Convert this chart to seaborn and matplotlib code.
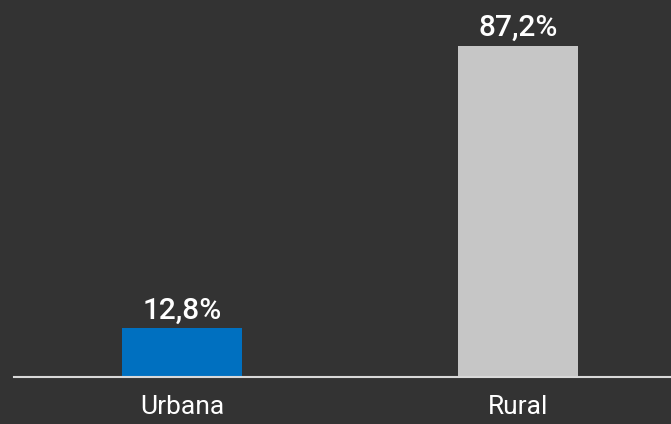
import matplotlib
matplotlib.use("Agg")
import matplotlib.pyplot as plt
import seaborn as sns
import pandas as pd

# data
categories = ["Urbana", "Rural"]
values = [12.8, 87.2]
labels = ["12,8%", "87,2%"]
colors = ["#0070C0", "#C6C6C6"]

bg = "#333333"

sns.set_theme(style="dark")
plt.rcParams["font.family"] = ["Roboto", "DejaVu Sans"]

df = pd.DataFrame({"zona": categories, "pct": values})

fig = plt.figure(figsize=(6.71, 4.24), dpi=100, facecolor=bg)
ax = fig.add_axes([14 / 671, 47 / 424, 657 / 671, 377 / 424])
ax.set_facecolor(bg)

sns.barplot(data=df, x="zona", y="pct", hue="zona", palette=colors,
            width=0.357, legend=False, saturation=1, linewidth=0, ax=ax)

# value labels on top of bars
for i, (v, lab) in enumerate(zip(values, labels)):
    ax.text(i, v + 1.0, lab, ha="center", va="bottom", color="white",
            fontsize=21.5, fontweight="medium")

ax.set_xlim(-0.5, 1.455)
ax.set_ylim(0, 99.2)
ax.set_xlabel("")
ax.set_ylabel("")
ax.set_yticks([])
ax.tick_params(axis="x", colors="white", labelsize=19, length=0, pad=13)

for s in ["top", "right", "left"]:
    ax.spines[s].set_visible(False)
ax.spines["bottom"].set_color("#D9D9D9")
ax.spines["bottom"].set_linewidth(1.5)
ax.grid(False)

fig.savefig("out.png", dpi=100, facecolor=bg)
